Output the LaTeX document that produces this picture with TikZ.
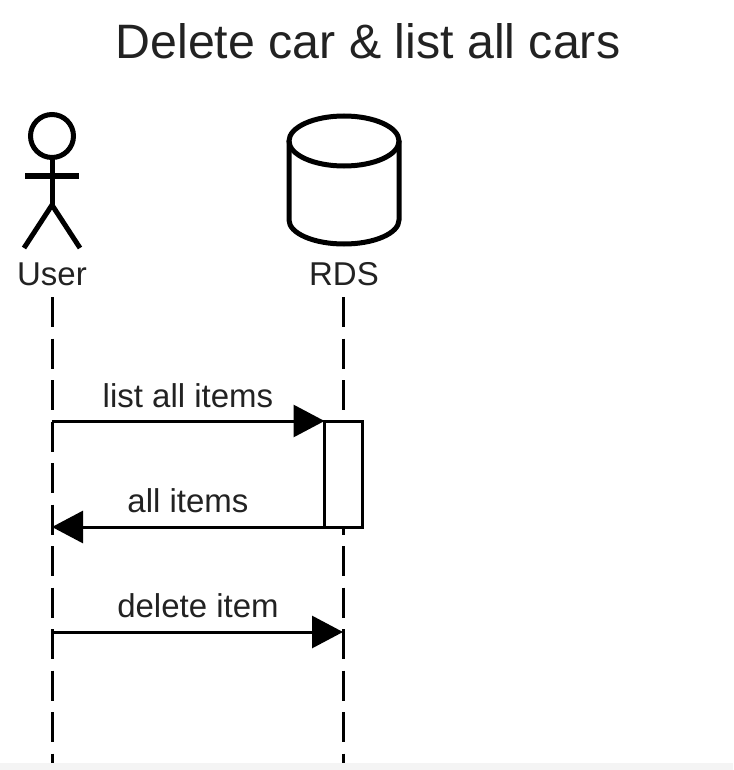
\documentclass[tikz,border=0pt]{standalone}
\usepackage{fontspec}
\setmainfont{Liberation Sans}
\usetikzlibrary{arrows.meta}
\definecolor{bandgray}{HTML}{F4F4F4}
\definecolor{textgray}{HTML}{222222}
\tikzset{
    msg/.style={black, line width=3pt, -{Triangle[length=31pt,width=32pt]}},
    lifeline/.style={black, line width=3pt, dash pattern=on 30pt off 11.5pt},
    figure/.style={black, line width=5pt},
    label/.style={textgray, font=\fontsize{33}{38}\selectfont, inner sep=0pt, anchor=base}
}
\begin{document}
\begin{tikzpicture}[x=1pt, y=-1pt]
    \useasboundingbox (0, 0) rectangle (733, 770);
    \fill [bandgray] (0, 763) rectangle (733, 770);
    \node (title) [textgray, inner sep=0pt, anchor=base, font=\fontsize{48.3}{54}\selectfont] at (368, 59) {Delete car \& list all cars};
    % user
    \draw [figure] (52, 136) circle (21.5pt);
    \draw [figure] (52, 158) -- (52, 205);
    \draw [figure] (25, 176) -- (79, 176);
    \draw [figure] (24, 248) -- (52, 205) -- (80, 248);
    \node (user) [label] at (52, 285) {User};
    % rds
    \draw [figure] (344, 141) ellipse (55pt and 25pt);
    \draw [figure] (289, 141) -- (289, 220) arc [start angle=180, end angle=360, x radius=55pt, y radius=24pt] -- (399, 141);
    \node (rds) [label] at (344, 285) {RDS};
    % lifelines
    \coordinate (usertop) at (52, 297);
    \coordinate (userend) at (52, 763);
    \coordinate (rdstop) at (343, 297);
    \coordinate (rdsend) at (343, 763);
    \draw [lifeline] (usertop) -- (userend);
    \draw [lifeline] (rdstop) -- (rdsend);
    % messages
    \node (rdsbox) [draw=black, fill=white, line width=3pt, minimum width=38pt, minimum height=106pt, inner sep=0pt, outer sep=0pt] at (343.5, 474) {};
    \coordinate (listfrom) at (52, 421);
    \coordinate (itemsto) at (52, 527);
    \coordinate (delfrom) at (52, 632);
    \coordinate (delto) at (343, 632);
    \draw [msg] (listfrom) -- (rdsbox.north west);
    \draw [msg] (rdsbox.south west) -- (itemsto);
    \draw [msg] (delfrom) -- (delto);
    \node (listlabel) [label] at (188, 407) {list all items};
    \node (itemslabel) [label] at (188, 512) {all items};
    \node (dellabel) [label] at (198, 617) {delete item};
\end{tikzpicture}
\end{document}
